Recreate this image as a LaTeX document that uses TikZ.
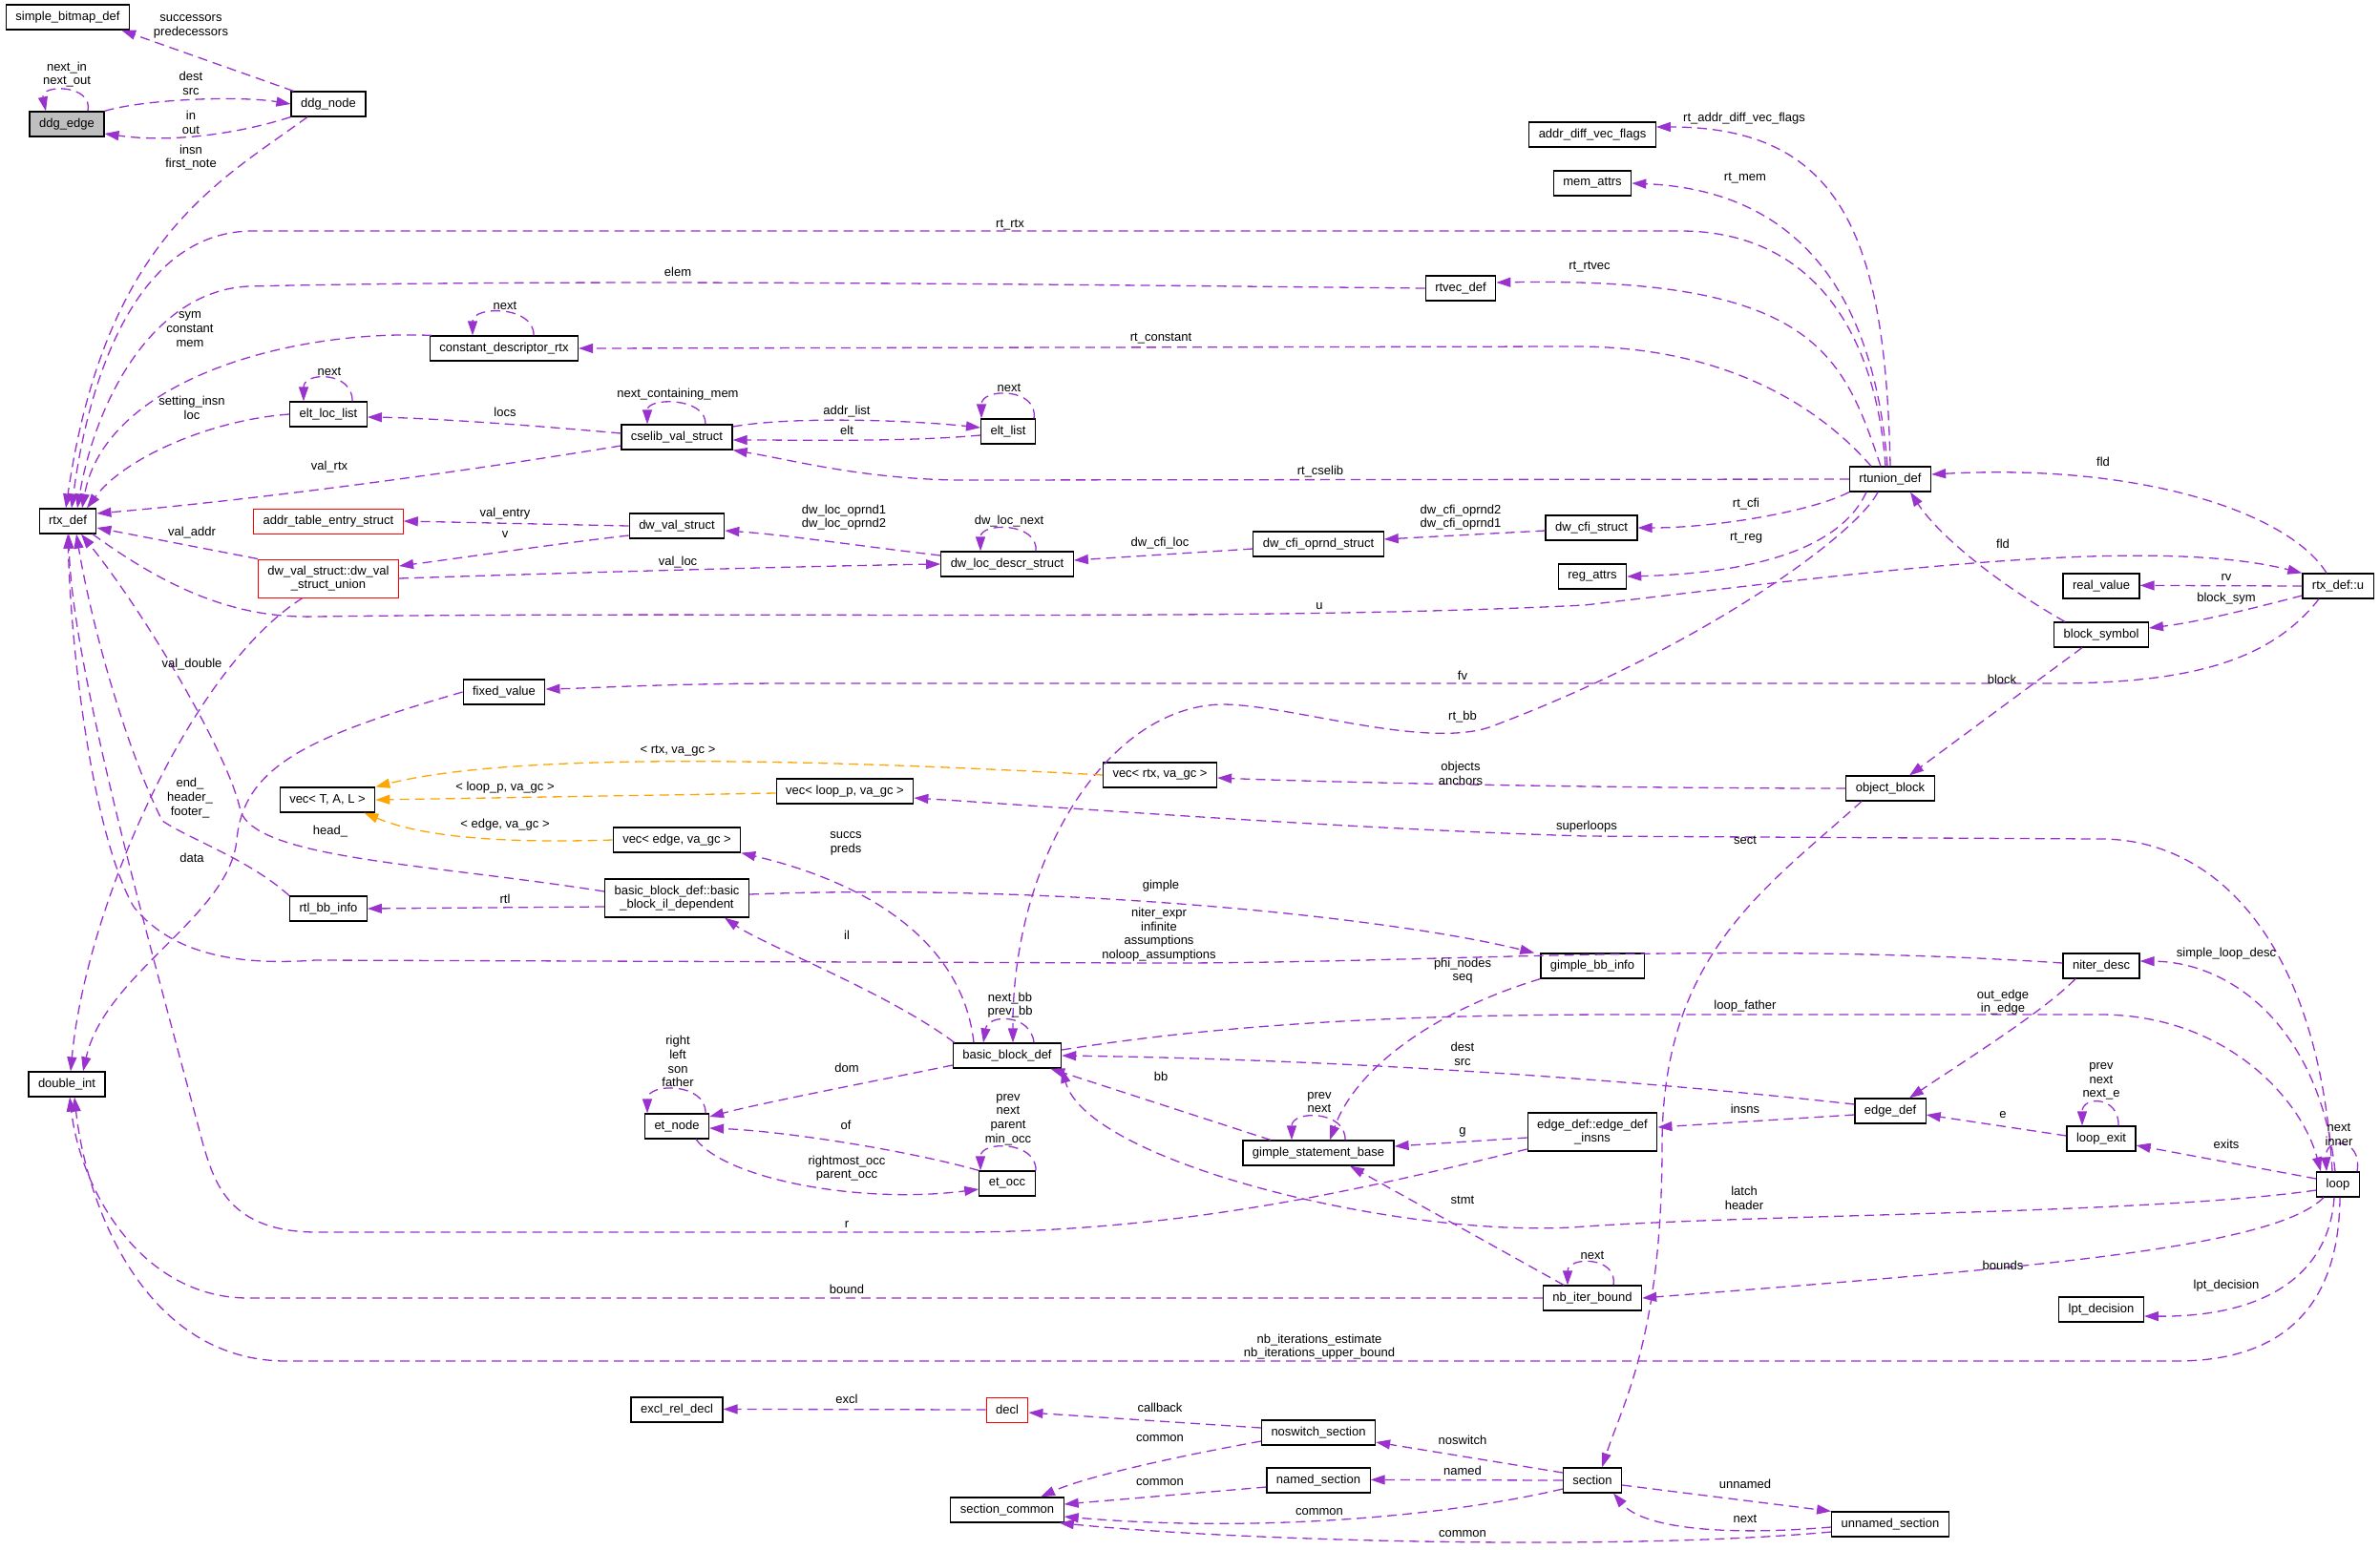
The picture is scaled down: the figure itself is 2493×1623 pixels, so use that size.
\documentclass[tikz,border=0pt]{standalone}
\usepackage{fontspec}
\setmainfont{Liberation Sans}
\usetikzlibrary{arrows.meta}
\definecolor{purp}{HTML}{9A32CD}
\definecolor{orng}{HTML}{FFA500}
\definecolor{grayfill}{HTML}{BFBFBF}

\begin{document}
\begin{tikzpicture}[
    x=1pt, y=-1pt,
    cls/.style={draw=black,line width=1.2pt,fill=white,font=\fontsize{13}{14.7}\selectfont,
        inner xsep=10pt,inner ysep=3pt,minimum height=26pt,align=center},
    clsred/.style={cls,draw=red,line width=1pt},
    clsgray/.style={cls,fill=grayfill},
    lbl/.style={font=\fontsize{13}{14.7}\selectfont,align=center,inner sep=0pt},
    dep/.style={draw=purp,line width=1.3pt,dash pattern=on 10pt off 6pt,
        -{Triangle[length=15pt,width=10pt]}},
    tmpl/.style={dep,draw=orng}
]
\useasboundingbox[fill=white] (0,0) rectangle (2493,1623);

\node[cls] (sbitmap) at (71,18) {simple\_bitmap\_def};
\node[clsgray] (ddgedge) at (70,130) {ddg\_edge};
\node[cls] (ddgnode) at (344,109) {ddg\_node};
\node[cls] (rtx) at (71,546) {rtx\_def};
\node[cls] (cdr) at (528,365) {constant\_descriptor\_rtx};
\node[cls] (eltloc) at (344,434) {elt\_loc\_list};
\node[cls] (cselib) at (709,458) {cselib\_val\_struct};
\node[cls] (eltlist) at (1056,452) {elt\_list};
\node[cls] (rtvec) at (1530,302) {rtvec\_def};
\node[cls] (adflags) at (1668,141) {addr\_diff\_vec\_flags};
\node[cls] (memattrs) at (1668,192) {mem\_attrs};
\node[cls] (rtunion) at (1980,502) {rtunion\_def};
\node[clsred] (ates) at (344,546) {addr\_table\_entry\_struct};
\node[cls] (dwval) at (709,551) {dw\_val\_struct};
\node[clsred,minimum height=40pt] (dwunion) at (344,606) {dw\_val\_struct::dw\_val\\\_struct\_union};
\node[cls] (dwloc) at (1055,591) {dw\_loc\_descr\_struct};
\node[cls] (cfiopr) at (1381,570) {dw\_cfi\_oprnd\_struct};
\node[cls] (cfi) at (1667,553) {dw\_cfi\_struct};
\node[cls] (regattrs) at (1668,604) {reg\_attrs};
\node[cls] (realval) at (2201,614) {real\_value};
\node[cls] (rtxu) at (2449,614) {rtx\_def::u};
\node[cls] (blksym) at (2201,665) {block\_symbol};
\node[cls] (fixval) at (528,725) {fixed\_value};
\node[cls] (vecT) at (343,838) {vec< T, A, L >};
\node[cls] (vecrtx) at (1215,812) {vec< rtx, va\_gc >};
\node[cls] (vecloop) at (885,829) {vec< loop\_p, va\_gc >};
\node[cls] (objblk) at (1980,826) {object\_block};
\node[cls] (vecedge) at (709,880) {vec< edge, va\_gc >};
\node[cls,minimum height=40pt] (bbil) at (709,941) {basic\_block\_def::basic\\\_block\_il\_dependent};
\node[cls] (rtlbb) at (344,952) {rtl\_bb\_info};
\node[cls] (gimbb) at (1668,1012) {gimple\_bb\_info};
\node[cls] (niter) at (2201,1012) {niter\_desc};
\node[cls] (dint) at (70,1136) {double\_int};
\node[cls] (bb) at (1055,1106) {basic\_block\_def};
\node[cls] (etnode) at (709,1180) {et\_node};
\node[cls] (etocc) at (1055,1240) {et\_occ};
\node[cls] (gsb) at (1381,1208) {gimple\_statement\_base};
\node[cls,minimum height=40pt] (edgeinsns) at (1668,1186) {edge\_def::edge\_def\\\_insns};
\node[cls] (edge) at (1980,1164) {edge\_def};
\node[cls] (lexit) at (2201,1193) {loop\_exit};
\node[cls] (loop) at (2449,1241) {loop};
\node[cls] (nbiter) at (1668,1360) {nb\_iter\_bound};
\node[cls] (lpt) at (2201,1372) {lpt\_decision};
\node[cls] (excl) at (709,1477) {excl\_rel\_decl};
\node[clsred] (decl) at (1055,1477) {decl};
\node[cls] (noswitch) at (1381,1501) {noswitch\_section};
\node[cls] (named) at (1381,1551) {named\_section};
\node[cls] (section) at (1668,1551) {section};
\node[cls] (seccommon) at (1055,1582) {section\_common};
\node[cls] (unnamed) at (1980,1597) {unnamed\_section};

% ddg
\draw[dep] ([xshift=3pt]ddgnode.north west) -- ([xshift=-9pt]sbitmap.south east);
\draw[dep] (ddgedge.north east) .. controls (150,104) and (250,100) .. (ddgnode.west);
\draw[dep] (ddgnode.south west) .. controls (250,140) and (180,150) .. ([yshift=-10pt]ddgedge.east);
\draw[dep] ([xshift=22pt]ddgedge.north) .. controls (98,88) and (42,88) .. ([xshift=-22pt]ddgedge.north);
\draw[dep] ([xshift=-22pt]ddgnode.south) .. controls (230,190) and (110,250) .. ([xshift=-2pt]rtx.north);

% rtunion_def
\draw[dep] ([xshift=-5pt]rtunion.north) .. controls (1965,350) and (1900,242) .. (1760,242) -- (265,242) .. controls (150,242) and (95,380) .. ([xshift=4pt]rtx.north);
\draw[dep] (rtvec.west) .. controls (1100,298) and (600,292) .. (260,300) .. controls (160,305) and (100,420) .. ([xshift=10pt]rtx.north);
\draw[dep] ([xshift=-10pt]rtunion.north) .. controls (1930,370) and (1900,290) .. ([yshift=6pt]rtvec.east);
\draw[dep] ([xshift=-3pt]rtunion.north) .. controls (1965,330) and (1900,200) .. (memattrs.east);
\draw[dep] (rtunion.north) .. controls (1975,250) and (1930,133) .. ([yshift=8pt]adflags.east);
\draw[dep] ([xshift=-20pt]rtunion.north) .. controls (1900,420) and (1800,363) .. (1650,363) -- (cdr.east);
\draw[dep] ([xshift=2pt]cdr.north west) .. controls (300,345) and (110,400) .. ([xshift=15pt]rtx.north);
\draw[dep] ([xshift=31pt]cdr.north) .. controls (560,320) and (495,320) .. ([xshift=-33pt]cdr.north);

% cselib
\draw[dep] ([xshift=25pt]eltloc.north) .. controls (370,389) and (318,389) .. ([xshift=-26pt]eltloc.north);
\draw[dep] (eltloc.west) .. controls (220,440) and (130,480) .. ([xshift=20pt]rtx.north);
\draw[dep] ([yshift=4pt]cselib.west) .. controls (550,445) and (450,438) .. ([yshift=-3pt]eltloc.east);
\draw[dep] ([xshift=30pt]cselib.north) .. controls (740,416) and (678,416) .. ([xshift=-31pt]cselib.north);
\draw[dep] ([yshift=-9pt]cselib.west) .. controls (450,500) and (250,525) .. ([yshift=8pt]rtx.east);
\draw[dep] ([yshift=11pt]cselib.east) .. controls (830,436) and (950,440) .. ([yshift=4pt]eltlist.west);
\draw[dep] ([yshift=-4pt]eltlist.west) .. controls (950,463) and (850,461) .. ([yshift=-3pt]cselib.east);
\draw[dep] ([xshift=27pt]eltlist.north) .. controls (1088,406) and (1028,406) .. ([xshift=-28pt]eltlist.north);
\draw[dep] (rtunion.west) -- (1000,503) .. controls (900,501) and (830,482) .. (cselib.south east);

% dwarf
\draw[dep] (dwval.west) -- (ates.east);
\draw[dep] ([yshift=-10pt]dwval.west) .. controls (580,570) and (480,585) .. ([yshift=13pt]dwunion.east);
\draw[dep] (dwunion.north west) -- ([yshift=-7pt]rtx.east);
\draw[dep] (dwunion.east) .. controls (600,600) and (850,593) .. (dwloc.west);
\draw[dep] ([yshift=9pt]dwloc.west) .. controls (900,572) and (820,560) .. ([yshift=-5pt]dwval.east);
\draw[dep] ([xshift=30pt]dwloc.north) .. controls (1088,547) and (1027,547) .. ([xshift=-28pt]dwloc.north);
\draw[dep] ([yshift=-5pt]cfiopr.west) -- ([yshift=4pt]dwloc.east);
\draw[dep] ([yshift=-3pt]cfi.west) -- ([yshift=5pt]cfiopr.east);
\draw[dep] (rtunion.south west) .. controls (1900,535) and (1800,553) .. (cfi.east);
\draw[dep] ([xshift=-25pt]rtunion.south) .. controls (1930,570) and (1850,600) .. (regattrs.east);
\draw[dep] ([xshift=-27pt]dwunion.south) .. controls (200,700) and (90,950) .. ([xshift=4pt]dint.north);
\draw[dep] (fixval.west) .. controls (330,770) and (255,800) .. (248,880) .. controls (240,960) and (110,1020) .. ([xshift=17pt]dint.north);

% rtx_def::u
\draw[dep] ([xshift=26pt]rtx.south) .. controls (180,620) and (250,648) .. (330,646) .. controls (800,640) and (1300,652) .. (1660,634) .. controls (1950,600) and (2250,560) .. (rtxu.north west);
\draw[dep] ([xshift=-12pt]rtxu.north) .. controls (2400,540) and (2250,485) .. ([yshift=5pt]rtunion.east);
\draw[dep] (rtxu.west) -- ([yshift=0.6pt]realval.east);
\draw[dep] ([yshift=-10pt]rtxu.west) .. controls (2350,640) and (2300,652) .. ([yshift=7pt]blksym.east);
\draw[dep] ([xshift=-38pt]blksym.north) .. controls (2090,610) and (2030,560) .. ([xshift=21pt]rtunion.south);
\draw[dep] ([xshift=-20pt]rtxu.south) .. controls (2380,690) and (2300,716) .. (2150,716) -- (830,716) .. controls (700,716) and (620,721) .. ([yshift=3pt]fixval.east);
\draw[dep] ([xshift=-13pt]rtunion.south) .. controls (1945,560) and (1780,680) .. (1560,762) .. controls (1490,785) and (1350,738) .. (1280,738) .. controls (1160,740) and (1060,900) .. ([xshift=6pt]bb.north);

% object block, vec
\draw[dep] (objblk.west) .. controls (1700,826) and (1400,820) .. ([yshift=-3pt]vecrtx.east);
\draw[dep] ([xshift=-20pt]blksym.south) -- ([xshift=20pt]objblk.north);
\draw[dep] ([xshift=-30pt]objblk.south) .. controls (1850,930) and (1741,1000) .. (1741,1200) .. controls (1741,1400) and (1700,1470) .. ([xshift=10pt]section.north);
\draw[dep] ([xshift=-6pt]loop.north) .. controls (2430,1000) and (2330,879) .. (2200,879) -- (1660,876) .. controls (1400,868) and (1100,845) .. ([yshift=-7pt]vecloop.east);
\draw[tmpl] (vecrtx.west) .. controls (900,798) and (550,785) .. (vecT.north east);
\draw[tmpl] ([yshift=-2pt]vecloop.west) -- (vecT.east);
\draw[tmpl] (vecedge.west) .. controls (520,884) and (440,876) .. ([xshift=-12pt]vecT.south east);

% basic blocks
\draw[dep] ([xshift=-35pt]bb.north) .. controls (1010,1000) and (930,930) .. (vecedge.south east);
\draw[dep] ([yshift=4pt]bbil.east) .. controls (1100,925) and (1450,960) .. ([xshift=-6pt]gimbb.north west);
\draw[dep] ([yshift=3pt]niter.west) .. controls (1800,985) and (1500,1010) .. (1200,1009) -- (330,1006) .. controls (250,1012) and (180,1000) .. (140,950) .. controls (100,880) and (75,700) .. (rtx.south);
\draw[dep] ([xshift=2pt]bb.north west) .. controls (930,1040) and (800,990) .. ([xshift=50pt]bbil.south);
\draw[dep] ([xshift=28pt]bb.north) .. controls (1080,1062) and (1035,1062) .. ([xshift=-25pt]bb.north);
\draw[dep] ([yshift=-9pt]bbil.west) -- (rtlbb.east);
\draw[dep] ([yshift=7pt]bbil.west) .. controls (450,905) and (270,900) .. (252,850) .. controls (240,790) and (150,640) .. ([xshift=14pt]rtx.south);
\draw[dep] (rtlbb.north west) .. controls (260,900) and (200,880) .. (170,860) .. controls (130,780) and (95,650) .. ([xshift=9pt]rtx.south);
\draw[dep] (gimbb.south west) .. controls (1500,1060) and (1420,1120) .. ([xshift=12pt]gsb.north);
\draw[dep] ([xshift=28pt]gsb.north) .. controls (1410,1163) and (1353,1163) .. ([xshift=-28pt]gsb.north);
\draw[dep] ([xshift=-50pt]gsb.north) -- ([xshift=-12pt]bb.south east);
\draw[dep] ([yshift=7pt]edge.west) .. controls (1700,1130) and (1400,1110) .. (bb.east);
\draw[dep] ([yshift=-4pt]edge.west) -- ([yshift=5pt]edgeinsns.east);
\draw[dep] ([yshift=-6pt]edgeinsns.west) -- ([yshift=7pt]gsb.east);
\draw[dep] ([yshift=-18pt]edgeinsns.west) .. controls (1450,1240) and (1250,1291) .. (1000,1291) -- (330,1291) .. controls (240,1290) and (225,1240) .. (213,1200) .. controls (160,1000) and (75,700) .. ([xshift=1pt]rtx.south);

% et
\draw[dep] ([yshift=-10pt]bb.west) .. controls (930,1130) and (800,1155) .. ([yshift=10pt]etnode.east);
\draw[dep] ([xshift=30pt]etnode.north) .. controls (740,1134) and (678,1134) .. ([xshift=-31pt]etnode.north);
\draw[dep] (etocc.north west) .. controls (950,1205) and (820,1185) .. ([yshift=-2pt]etnode.east);
\draw[dep] ([xshift=20pt]etnode.south) .. controls (760,1235) and (900,1262) .. ([yshift=-6pt]etocc.west);
\draw[dep] ([xshift=30pt]etocc.north) .. controls (1086,1195) and (1027,1195) .. ([xshift=-28pt]etocc.north);

% loop
\draw[dep] ([yshift=-6pt]loop.west) .. controls (2250,1272) and (1850,1272) .. (1660,1285) .. controls (1480,1300) and (1140,1220) .. (bb.south east);
\draw[dep] ([yshift=6pt]bb.east) .. controls (1300,1070) and (1500,1063) .. (1700,1063) -- (2200,1063) .. controls (2330,1063) and (2410,1150) .. ([xshift=-18pt]loop.north);
\draw[dep] ([xshift=-3pt]loop.north) .. controls (2430,1080) and (2340,1008) .. ([yshift=5pt]niter.east);
\draw[dep] ([xshift=-27pt]niter.south) .. controls (2140,1060) and (2060,1110) .. ([xshift=20pt]edge.north);
\draw[dep] ([yshift=3pt]lexit.west) -- ([yshift=-4pt]edge.east);
\draw[dep] ([xshift=18pt]lexit.north) .. controls (2220,1148) and (2181,1148) .. ([xshift=-20pt]lexit.north);
\draw[dep] ([yshift=6pt]loop.west) -- ([yshift=-7pt]lexit.east);
\draw[dep] ([xshift=20pt]loop.north) .. controls (2475,1192) and (2435,1190) .. ([xshift=-12pt]loop.north);
\draw[dep] ([xshift=-15pt]loop.south) .. controls (2380,1310) and (2100,1330) .. (nbiter.east);
\draw[dep] ([xshift=-4pt]loop.south) .. controls (2440,1330) and (2380,1380) .. ([yshift=-7pt]lpt.east);
\draw[dep] ([xshift=2pt]loop.south) .. controls (2450,1380) and (2380,1426) .. (2280,1426) -- (300,1426) .. controls (150,1426) and (90,1260) .. ([xshift=8pt]dint.south);
\draw[dep] (nbiter.west) -- (260,1360) .. controls (150,1360) and (85,1250) .. ([xshift=3pt]dint.south);
\draw[dep] ([xshift=22pt]nbiter.north) .. controls (1695,1316) and (1642,1316) .. ([xshift=-26pt]nbiter.north);
\draw[dep] ([xshift=-30pt]nbiter.north) -- ([xshift=33pt]gsb.south);

% sections
\draw[dep] (decl.west) -- ([yshift=0.6pt]excl.east);
\draw[dep] ([yshift=5pt]noswitch.west) -- ([yshift=-3pt]decl.east);
\draw[dep] ([yshift=-9pt]noswitch.west) .. controls (1210,1530) and (1130,1550) .. ([xshift=35pt]seccommon.north);
\draw[dep] ([yshift=-7pt]named.west) -- ([yshift=6pt]seccommon.east);
\draw[dep] (section.west) -- ([yshift=0.6pt]named.east);
\draw[dep] ([yshift=8pt]section.west) -- ([yshift=-10pt]noswitch.east);
\draw[dep] ([yshift=-9pt]section.west) .. controls (1500,1592) and (1300,1605) .. ([yshift=-7pt]seccommon.east);
\draw[dep] ([yshift=-8pt]unnamed.west) .. controls (1700,1625) and (1300,1615) .. ([xshift=-5pt]seccommon.south east);
\draw[dep] ([yshift=-5pt]section.east) -- (unnamed.north west);
\draw[dep] ([yshift=-3pt]unnamed.west) .. controls (1800,1610) and (1720,1600) .. ([xshift=22pt]section.south);

% labels
\node[lbl] (lsucc) at (200,28) {successors\\predecessors};
\node[lbl] (ldest) at (200,87) {dest\\src};
\node[lbl] (linout) at (200,128) {in\\out};
\node[lbl] (lnextin) at (70,78) {next\_in\\next\_out};
\node[lbl] (linsn) at (200,165) {insn\\first\_note};
\node[lbl] (lrtrtx) at (1058,236) {rt\_rtx};
\node[lbl] (lelem) at (710,285) {elem};
\node[lbl] (lrtvec) at (1665,280) {rt\_rtvec};
\node[lbl] (lrtmem) at (1828,187) {rt\_mem};
\node[lbl] (lrtaddr) at (1827,124) {rt\_addr\_diff\_vec\_flags};
\node[lbl] (lrtconst) at (1216,355) {rt\_constant};
\node[lbl] (lsym) at (199,345) {sym\\constant\\mem};
\node[lbl] (lcdrnext) at (529,320) {next};
\node[lbl] (leltnext) at (345,389) {next};
\node[lbl] (lsetting) at (201,427) {setting\_insn\\loc};
\node[lbl] (llocs) at (529,432) {locs};
\node[lbl] (lncm) at (710,413) {next\_containing\_mem};
\node[lbl] (lvalrtx) at (345,489) {val\_rtx};
\node[lbl] (laddrlist) at (887,431) {addr\_list};
\node[lbl] (lelt) at (887,451) {elt};
\node[lbl] (leltlnext) at (1057,406) {next};
\node[lbl] (lrtcselib) at (1383,494) {rt\_cselib};
\node[lbl] (lvalentry) at (529,538) {val\_entry};
\node[lbl] (lv) at (529,560) {v};
\node[lbl] (lvaladdr) at (201,558) {val\_addr};
\node[lbl] (lvalloc) at (710,589) {val\_loc};
\node[lbl] (loprnd) at (884,542) {dw\_loc\_oprnd1\\dw\_loc\_oprnd2};
\node[lbl] (llocnext) at (1057,546) {dw\_loc\_next};
\node[lbl] (lcfiloc) at (1215,569) {dw\_cfi\_loc};
\node[lbl] (lcfiopr) at (1530,542) {dw\_cfi\_oprnd2\\dw\_cfi\_oprnd1};
\node[lbl] (lrtcfi) at (1829,528) {rt\_cfi};
\node[lbl] (lrtreg) at (1829,564) {rt\_reg};
\node[lbl] (lu) at (1382,635) {u};
\node[lbl] (lfld) at (2203,484) {fld};
\node[lbl] (lrv) at (2332,605) {rv};
\node[lbl] (lblksym) at (2332,627) {block\_sym};
\node[lbl] (lfld2) at (2098,570) {fld};
\node[lbl] (lfv) at (1532,708) {fv};
\node[lbl] (lrtbb) at (1532,751) {rt\_bb};
\node[lbl] (lobj) at (1530,810) {objects\\anchors};
\node[lbl] (lblock) at (2097,712) {block};
\node[lbl] (lsect) at (1828,880) {sect};
\node[lbl] (lsuper) at (1662,866) {superloops};
\node[lbl] (ltrtx) at (710,787) {< rtx, va\_gc >};
\node[lbl] (ltloop) at (529,825) {< loop\_p, va\_gc >};
\node[lbl] (ltedge) at (529,864) {< edge, va\_gc >};
\node[lbl] (lsuccs) at (886,884) {succs\\preds};
\node[lbl] (lgimple) at (1216,928) {gimple};
\node[lbl] (lniter) at (1214,979) {niter\_expr\\infinite\\assumptions\\noloop\_assumptions};
\node[lbl] (lil) at (887,980) {il};
\node[lbl] (lnextbb) at (1058,1053) {next\_bb\\prev\_bb};
\node[lbl] (lphi) at (1532,1017) {phi\_nodes\\seq};
\node[lbl] (lgsbnext) at (1382,1155) {prev\\next};
\node[lbl] (lbb) at (1216,1128) {bb};
\node[lbl] (ldestsrc) at (1532,1104) {dest\\src};
\node[lbl] (linsns) at (1828,1162) {insns};
\node[lbl] (lg) at (1532,1186) {g};
\node[lbl] (lr) at (887,1283) {r};
\node[lbl] (ldom) at (887,1119) {dom};
\node[lbl] (letnode) at (710,1112) {right\\left\\son\\father};
\node[lbl] (lof) at (886,1179) {of};
\node[lbl] (lrmocc) at (887,1224) {rightmost\_occ\\parent\_occ};
\node[lbl] (letocc) at (1056,1173) {prev\\next\\parent\\min\_occ};
\node[lbl] (llatch) at (1827,1255) {latch\\header};
\node[lbl] (lloopf) at (1828,1054) {loop\_father};
\node[lbl] (lsimple) at (2332,999) {simple\_loop\_desc};
\node[lbl] (loutedge) at (2098,1050) {out\_edge\\in\_edge};
\node[lbl] (le) at (2098,1168) {e};
\node[lbl] (lexitnext) at (2201,1133) {prev\\next\\next\_e};
\node[lbl] (lexits) at (2332,1199) {exits};
\node[lbl] (lloopnext) at (2450,1189) {next\\inner};
\node[lbl] (lbounds) at (2098,1326) {bounds};
\node[lbl] (llpt) at (2332,1347) {lpt\_decision};
\node[lbl] (lnbit) at (1382,1411) {nb\_iterations\_estimate\\nb\_iterations\_upper\_bound};
\node[lbl] (lbound) at (887,1351) {bound};
\node[lbl] (lnbnext) at (1668,1315) {next};
\node[lbl] (lstmt) at (1532,1257) {stmt};
\node[lbl] (lexcl) at (887,1466) {excl};
\node[lbl] (lcallback) at (1215,1475) {callback};
\node[lbl] (lcommon1) at (1215,1507) {common};
\node[lbl] (lcommon2) at (1215,1553) {common};
\node[lbl] (lnamed) at (1532,1541) {named};
\node[lbl] (lnoswitch) at (1532,1509) {noswitch};
\node[lbl] (lcommon3) at (1382,1584) {common};
\node[lbl] (lcommon4) at (1532,1607) {common};
\node[lbl] (lunnamed) at (1828,1555) {unnamed};
\node[lbl] (lnext) at (1828,1591) {next};
\node[lbl] (lvaldouble) at (201,696) {val\_double};
\node[lbl] (ldata) at (201,899) {data};
\node[lbl] (lrtl) at (529,942) {rtl};
\node[lbl] (lhead) at (346,871) {head\_};
\node[lbl] (lend) at (199,836) {end\_\\header\_\\footer\_};
\end{tikzpicture}
\end{document}
